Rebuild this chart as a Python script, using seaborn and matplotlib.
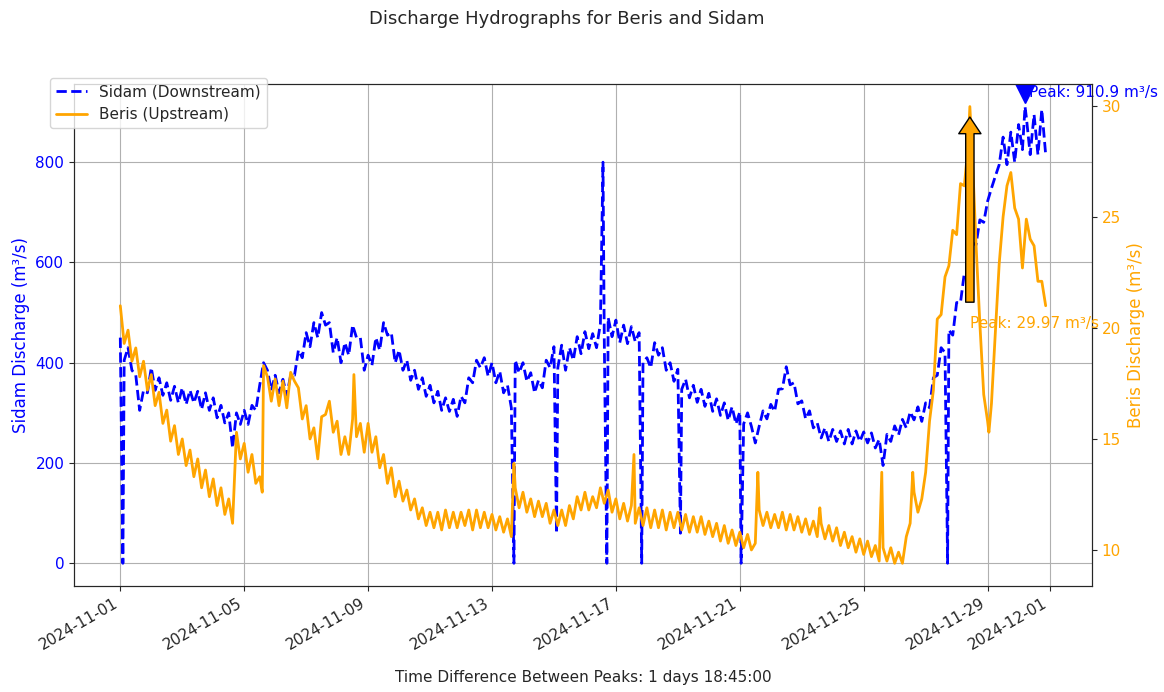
import pandas as pd
import matplotlib
matplotlib.use("Agg")
import matplotlib.pyplot as plt
import matplotlib.dates as mdates
import seaborn as sns

# 3-hourly readings off the hydrograph, 2024-11-01 00:00 .. 2024-11-30 21:00
start = "2024-11-01 00:00"
step = "3h"

# one row per day
sidam_q = [
    450, 405, 430, 385, 375, 305, 345, 340,
    390, 345, 370, 335, 360, 325, 353, 320,
    350, 317, 345, 320, 343, 307, 340, 305,
    330, 290, 315, 280, 300, 230, 300, 277,
    305, 277, 315, 305, 355, 400, 385, 345,
    375, 340, 367, 335, 375, 375, 425, 410,
    460, 432, 480, 450, 500, 475, 480, 420,
    450, 400, 440, 415, 475, 450, 450, 385,
    415, 395, 450, 425, 480, 455, 460, 400,
    425, 385, 405, 365, 385, 347, 370, 333,
    355, 320, 343, 305, 330, 303, 327, 293,
    333, 320, 370, 360, 405, 390, 410, 373,
    400, 360, 383, 340, 355, 310, 405, 380,
    400, 363, 380, 340, 365, 350, 405, 390,
    432, 390, 435, 385, 430, 405, 452, 418,
    462, 428, 458, 430, 478, 445, 490, 452,
    485, 440, 475, 438, 472, 442, 460, 400,
    410, 390, 440, 415, 430, 385, 400, 363,
    387, 347, 367, 330, 355, 321, 347, 313,
    339, 303, 328, 295, 320, 285, 312, 278,
    302, 278, 300, 273, 240, 273, 304, 288,
    317, 303, 347, 348, 392, 356, 360, 318,
    324, 288, 304, 270, 280, 250, 270, 243,
    267, 243, 264, 238, 267, 238, 264, 243,
    262, 240, 260, 230, 247, 195, 257, 243,
    274, 256, 287, 270, 302, 286, 312, 283,
    320, 310, 370, 375, 430, 420, 465, 455,
    520, 520, 580, 580, 640, 635, 685, 680,
    722, 748, 772, 795, 850, 795, 860, 800,
    875, 825, 890, 815, 895, 815, 905, 815,
]

beris_q = [
    21.0, 19.3, 19.9, 18.5, 19.1, 17.8, 18.5, 17.2,
    17.9, 16.5, 17.1, 15.7, 16.3, 14.9, 15.6, 14.3,
    15.0, 13.8, 14.5, 13.3, 14.1, 12.8, 13.6, 12.4,
    13.2, 12.0, 12.8, 11.6, 12.3, 11.2, 15.3, 14.1,
    14.8, 13.5, 14.3, 13.0, 13.3, 18.3, 17.8, 16.7,
    17.7, 16.5, 17.6, 16.4, 18.0, 17.6, 17.3, 15.9,
    16.5, 15.0, 15.5, 14.1, 16.0, 16.1, 16.7, 15.3,
    15.8, 14.3, 15.1, 14.3, 15.9, 15.1, 15.7, 14.4,
    15.7, 14.4, 15.1, 13.7, 14.3, 13.0, 13.7, 12.4,
    13.1, 12.2, 12.7, 11.8, 12.3, 11.4, 11.9, 11.1,
    11.7, 11.0, 11.7, 10.9, 11.8, 11.0, 11.7, 11.0,
    11.7, 11.1, 11.8, 10.9, 11.8, 11.0, 11.7, 11.0,
    11.6, 10.9, 11.5, 10.8, 11.4, 10.6, 12.8, 11.9,
    12.6, 11.7, 12.3, 11.5, 12.2, 11.5, 12.1, 11.2,
    11.8, 11.1, 11.8, 11.1, 12.0, 11.4, 12.4, 11.8,
    12.6, 11.8, 12.4, 11.9, 12.8, 12.1, 12.7, 11.7,
    12.3, 11.4, 12.1, 11.3, 12.0, 11.2, 11.9, 11.1,
    11.9, 11.0, 11.8, 11.0, 11.8, 10.9, 11.7, 11.0,
    11.7, 10.9, 11.6, 10.8, 11.5, 10.8, 11.5, 10.7,
    11.3, 10.6, 11.2, 10.4, 11.1, 10.3, 10.9, 10.2,
    10.8, 10.1, 10.7, 10.0, 10.3, 11.8, 11.1, 11.7,
    11.0, 11.6, 11.0, 11.7, 10.9, 11.6, 10.9, 11.5,
    10.8, 11.4, 10.7, 11.3, 10.6, 11.2, 10.5, 11.1,
    10.4, 11.0, 10.2, 10.8, 10.1, 10.6, 9.9, 10.5,
    9.8, 10.4, 9.7, 10.2, 9.5, 10.1, 9.5, 10.1,
    9.4, 9.9, 9.4, 10.6, 11.2, 12.6, 11.7, 12.3,
    13.5, 15.8, 17.2, 20.4, 20.6, 22.3, 22.8, 24.4,
    24.2, 26.5, 26.4, 28.3, 28.0, 23.8, 20.2, 17.0,
    15.8, 16.6, 19.8, 22.9, 25.0, 26.4, 27.0, 25.4,
    24.9, 22.7, 24.9, 24.0, 23.7, 22.1, 22.1, 21.0,
]

# short events between the 3-hourly readings (dropouts, spikes, peaks)
sidam_event_times = ["2024-11-01 02:00", "2024-11-13 17:00", "2024-11-15 02:00",
                     "2024-11-16 14:00", "2024-11-16 17:00", "2024-11-17 20:00",
                     "2024-11-19 02:00", "2024-11-21 01:00", "2024-11-27 17:00",
                     "2024-11-30 05:00"]
sidam_event_q = [0, 0, 60, 800, 0, 0, 60, 0, 0, 910.9]

beris_event_times = ["2024-11-05 14:00", "2024-11-08 13:00", "2024-11-13 17:00",
                     "2024-11-17 14:00", "2024-11-21 14:00", "2024-11-23 14:00",
                     "2024-11-25 14:00", "2024-11-26 14:00", "2024-11-28 10:15",
                     "2024-11-29 01:00"]
beris_event_q = [12.6, 17.9, 13.9, 14.3, 13.5, 11.9, 13.5, 13.5, 29.97, 15.3]


def build(values, ev_times, ev_vals):
    t = pd.date_range(start, periods=len(values), freq=step)
    df = pd.DataFrame({"time": t, "q": values})
    ev = pd.DataFrame({"time": pd.to_datetime(ev_times), "q": ev_vals})
    return pd.concat([df, ev]).sort_values("time").reset_index(drop=True)


sidam = build(sidam_q, sidam_event_times, sidam_event_q)
beris = build(beris_q, beris_event_times, beris_event_q)

sns.set_style("ticks")
fig = plt.figure(figsize=(11.64, 6.92), dpi=100)
ax1 = fig.add_axes([0.0636, 0.153, 0.8745, 0.726])
ax2 = ax1.twinx()

sns.lineplot(data=sidam, x="time", y="q", ax=ax1, color="blue", linestyle="--",
             linewidth=2.0, estimator=None, legend=False)
sns.lineplot(data=beris, x="time", y="q", ax=ax2, color="orange",
             linewidth=2.0, estimator=None, legend=False)

ax1.grid(True, color="#b0b0b0", linewidth=0.8)
ax1.set_ylabel("Sidam Discharge (m³/s)", color="blue", fontsize=12)
ax2.set_ylabel("Beris Discharge (m³/s)", color="orange", fontsize=12)
ax1.tick_params(axis="y", labelcolor="blue", labelsize=11)
ax2.tick_params(axis="y", labelcolor="orange", labelsize=11)

# peaks
s_peak = sidam.loc[sidam["q"].idxmax()]
b_peak = beris.loc[beris["q"].idxmax()]
lag = s_peak["time"] - b_peak["time"]

ax1.plot(s_peak["time"], s_peak["q"] * 1.03, marker="v", color="blue",
         markersize=15, scalex=False, scaley=False)
ax1.annotate(f"Peak: {s_peak['q']} m³/s", xy=(s_peak["time"], s_peak["q"] * 1.03),
             xytext=(3, 0), textcoords="offset points", color="blue",
             va="center", fontsize=11)
ax2.annotate(f"Peak: {b_peak['q']} m³/s", xy=(b_peak["time"], b_peak["q"]),
             xytext=(b_peak["time"], 20), color="orange", fontsize=11,
             arrowprops=dict(facecolor="orange", edgecolor="black", shrink=0.05,
                             width=6, headwidth=16))

ax1.xaxis.set_major_locator(mdates.DayLocator(bymonthday=range(1, 32, 4)))
ax1.xaxis.set_major_formatter(mdates.DateFormatter("%Y-%m-%d"))
for lab in ax1.get_xticklabels():
    lab.set_rotation(30)
    lab.set_ha("right")
ax1.tick_params(axis="x", labelsize=11)
ax1.set_xlabel(f"Time Difference Between Peaks: {lag}", fontsize=11, labelpad=12)

fig.legend(handles=[ax1.lines[0], ax2.lines[0]],
           labels=["Sidam (Downstream)", "Beris (Upstream)"],
           loc="upper left", bbox_to_anchor=(0.043, 0.887), borderaxespad=0,
           fontsize=11)
fig.suptitle("Discharge Hydrographs for Beris and Sidam", fontsize=13, x=0.487, y=0.985)

fig.savefig("out.png", dpi=100)
